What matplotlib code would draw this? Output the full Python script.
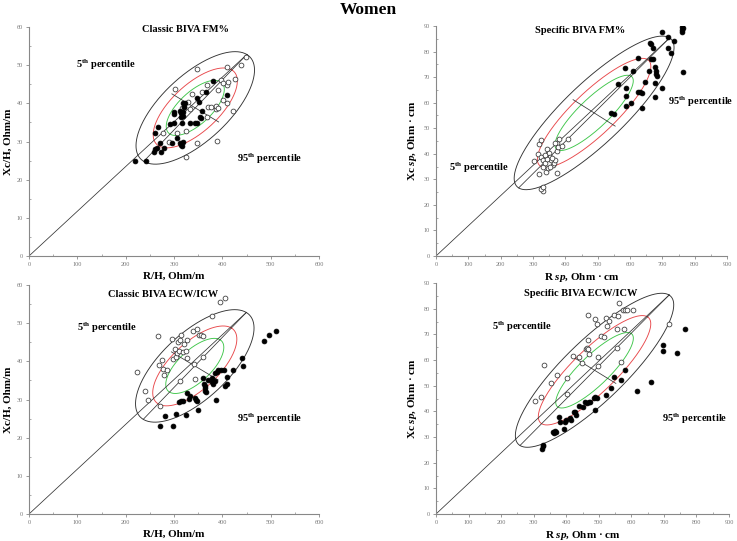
import numpy as np
import matplotlib
matplotlib.use("Agg")
import matplotlib.pyplot as plt
from matplotlib.ticker import MultipleLocator

plt.rcParams['font.family'] = ['Liberation Serif', 'DejaVu Serif']
plt.rcParams['mathtext.fontset'] = 'custom'
plt.rcParams['mathtext.rm'] = 'Liberation Serif:bold'
plt.rcParams['mathtext.bf'] = 'Liberation Serif:bold'
plt.rcParams['mathtext.it'] = 'Liberation Serif:italic:bold'

# ---------------- data ----------------
titles = ["Classic BIVA FM%", "Specific BIVA FM%", "Classic BIVA ECW/ICW", "Specific BIVA ECW/ICW"]
xlabels = ["R/H, Ohm/m", "R $\\mathit{sp}$, Ohm · cm", "R/H, Ohm/m", "R $\\mathit{sp}$, Ohm · cm"]
ylabels = ["Xc/H, Ohm/m", "Xc $\\mathit{sp}$, Ohm · cm", "Xc/H, Ohm/m", "Xc $\\mathit{sp}$, Ohm · cm"]
xmax = [600, 900, 600, 900]
ymax = [60, 90, 60, 90]

p1_fill_x = [219, 242, 260, 267, 259, 261, 264, 274, 272, 279, 292, 295, 300, 301, 301, 306, 312, 315, 317, 318,
             317, 312, 315, 318, 315, 319, 321, 323, 319, 334, 343, 348, 348, 352, 353, 356, 357, 367, 381, 410]
p1_fill_y = [25.0, 24.8, 32.3, 33.8, 27.3, 28.0, 28.2, 27.2, 29.7, 28.4, 34.6, 29.5, 34.9, 37.2, 37.8, 30.8, 29.5, 29.0, 28.9, 30.0,
             34.9, 38.0, 37.4, 36.7, 36.5, 37.8, 39.1, 40.2, 40.0, 34.9, 34.9, 34.8, 41.5, 40.4, 36.5, 36.2, 38.1, 43.1, 45.9, 42.2]
p1_open_x = [303, 347, 409, 439, 448, 426, 410, 412, 398, 401, 392, 369, 357, 337, 328, 333, 317, 321, 371, 377,
             387, 387, 390, 402, 409, 423, 369, 306, 325, 277, 290, 324, 347, 388]
p1_open_y = [43.7, 48.9, 49.6, 50.0, 52.1, 46.3, 44.8, 45.6, 46.1, 45.2, 43.5, 44.9, 43.1, 42.4, 40.3, 38.6, 38.7, 39.0, 39.1, 39.1,
             38.4, 39.3, 38.7, 40.9, 40.0, 38.0, 36.3, 32.1, 32.8, 32.3, 30.0, 26.0, 29.5, 30.1]

p2_fill_x = [698, 719, 760, 760, 762, 765, 736, 662, 665, 670, 719, 665, 670, 626, 726, 586, 610, 658, 677, 680,
             681, 682, 765, 564, 587, 588, 626, 632, 637, 647, 677, 699, 677, 588, 603, 638, 541, 551]
p2_fill_y = [87.8, 85.8, 89.6, 88.5, 87.5, 89.3, 84.0, 83.2, 82.8, 81.5, 81.5, 77.0, 77.0, 77.3, 79.3, 73.4, 72.4, 72.5, 74.1, 72.5,
             71.2, 70.4, 72.1, 67.2, 65.8, 62.6, 64.3, 64.0, 63.9, 68.1, 67.5, 65.6, 62.3, 58.7, 60.0, 58.0, 55.8, 55.6]
p2_open_x = [319, 325, 303, 315, 324, 332, 320, 331, 336, 339, 344, 349, 353, 356, 361, 365, 368, 373, 373, 368,
             381, 376, 373, 330, 326, 332, 408, 391, 344, 345, 360, 352, 337]
p2_open_y = [43.8, 45.4, 37.3, 39.9, 38.6, 37.6, 32.1, 35.0, 36.3, 33.0, 41.7, 40.2, 38.9, 37.6, 35.6, 36.5, 37.6, 41.2, 44.1, 44.3,
             45.6, 42.8, 32.3, 25.6, 26.2, 26.9, 45.8, 43.2, 37.8, 34.5, 38.3, 34.8, 39.5]

p3_fill_x = [271, 298, 282, 304, 324, 350, 326, 311, 315, 318, 332, 333, 344, 347, 345, 361, 364, 364, 365, 366,
             363, 370, 378, 379, 381, 384, 385, 388, 392, 397, 404, 409, 406, 409, 423, 387, 440, 442, 487, 497, 512]
p3_fill_y = [23.0, 23.1, 25.8, 26.3, 25.9, 27.3, 31.8, 29.3, 29.5, 29.7, 30.2, 30.8, 30.3, 29.5, 29.9, 35.6, 33.6, 32.9, 32.2, 31.9,
             34.1, 35.2, 35.6, 34.5, 34.1, 34.8, 36.9, 37.2, 37.6, 37.8, 37.6, 35.9, 33.6, 34.1, 37.8, 30.0, 41.0, 38.9, 45.3, 46.9, 48.0]
p3_open_x = [223, 241, 246, 267, 268, 275, 277, 280, 272, 286, 295, 297, 303, 304, 307, 309, 312, 311, 315, 318,
             321, 326, 324, 326, 312, 340, 347, 351, 355, 359, 359, 342, 344, 378, 395, 406]
p3_open_y = [37.1, 32.1, 30.0, 46.7, 39.1, 40.3, 38.1, 36.5, 28.2, 37.8, 45.9, 40.6, 43.3, 41.1, 42.2, 45.0, 45.5, 42.8, 46.9, 42.5,
             44.6, 45.5, 42.7, 41.0, 34.9, 47.9, 48.6, 46.9, 46.8, 46.7, 41.1, 39.2, 35.5, 52.0, 55.6, 56.7]

p4_fill_x = [329, 327, 330, 358, 365, 370, 362, 378, 382, 394, 397, 399, 411, 416, 423, 426, 431, 439, 453, 457,
             464, 470, 474, 485, 489, 496, 487, 522, 539, 547, 568, 582, 616, 659, 698, 698, 739, 766]
p4_fill_y = [26.3, 25.5, 26.9, 31.9, 32.4, 32.0, 31.6, 37.6, 36.0, 33.2, 36.0, 36.6, 37.3, 36.6, 39.6, 39.9, 38.6, 42.2, 41.6, 43.6,
             43.2, 43.6, 43.8, 45.2, 45.7, 45.1, 40.4, 46.2, 49.0, 53.2, 52.1, 56.2, 48.0, 51.5, 65.7, 63.6, 62.7, 72.1]
p4_open_x = [305, 323, 331, 354, 373, 401, 403, 422, 438, 447, 461, 465, 468, 466, 466, 469, 498, 488, 496, 506,
             517, 522, 531, 524, 548, 555, 558, 575, 582, 586, 561, 557, 569, 578, 604, 498, 717]
p4_open_y = [43.9, 45.5, 58.0, 50.9, 54.1, 52.8, 46.6, 61.5, 61.3, 58.9, 64.2, 64.8, 64.4, 67.7, 77.7, 62.5, 61.0, 75.8, 74.2, 69.3,
             68.8, 76.4, 75.2, 73.3, 77.4, 72.1, 77.3, 79.4, 79.6, 79.6, 82.2, 64.8, 59.2, 72.1, 79.4, 57.6, 73.9]

fill_x = [p1_fill_x, p2_fill_x, p3_fill_x, p4_fill_x]
fill_y = [p1_fill_y, p2_fill_y, p3_fill_y, p4_fill_y]
open_x = [p1_open_x, p2_open_x, p3_open_x, p4_open_x]
open_y = [p1_open_y, p2_open_y, p3_open_y, p4_open_y]

# tolerance ellipse (95%) params: centre x, centre y, semi-major, semi-minor, angle (deg) in x/10 space
ell_cx = [344, 489, 343, 487]
ell_cy = [38.8, 56.0, 38.8, 56.0]
ell_a = [17.6, 37.5, 17.6, 37.2]
ell_b = [7.6, 10.4, 7.6, 10.4]
ell_ang = [52.7, 51.5, 52.7, 52.0]
ell_levels = [1.0, 0.71, 0.49]          # 95%, 75%, 50%
ell_colors = ['#333333', '#e8474a', '#3fc64a']

# annotation positions (data coords)
lab5_xy = [(97, 50.0), (40, 34.4), (99, 48.8), (172, 73.0)]
lab95_xy = [(430, 25.4), (718, 60.2), (430, 25.0), (694, 37.0)]
title_xy = [(323, 59.3), (445, 88.3), (277, 57.6), (445, 85.8)]

# ---------------- figure ----------------
W, H = 737, 541
fig = plt.figure(figsize=(W / 100, H / 100), dpi=100)
axes_px = [(29, 27, 319, 256), (436, 26, 727, 256), (29, 285, 319, 514), (436, 283, 729, 514)]

fig.text(0.5, 1 - 10 / H, "Women", ha='center', va='center', fontsize=12.5, fontweight='bold')

for i in range(4):
    l, t, r, b = axes_px[i]
    ax = fig.add_axes([l / W, 1 - b / H, (r - l) / W, (b - t) / H])
    ax.set_xlim(0, xmax[i])
    ax.set_ylim(0, ymax[i])
    for s in ['top', 'right']:
        ax.spines[s].set_visible(False)
    for s in ['left', 'bottom']:
        ax.spines[s].set_color('#888888')
        ax.spines[s].set_linewidth(0.8)
    ax.xaxis.set_major_locator(MultipleLocator(100))
    ax.xaxis.set_minor_locator(MultipleLocator(50))
    ax.yaxis.set_major_locator(MultipleLocator(10))
    ax.yaxis.set_minor_locator(MultipleLocator(5))
    ax.tick_params(which='major', length=2.5, width=0.6, color='#888888', labelsize=4.5,
                   labelcolor='#777777', pad=2, direction='out')
    ax.tick_params(which='minor', length=1.5, width=0.5, color='#888888', direction='in')

    # ellipses
    th = np.radians(ell_ang[i])
    tt = np.linspace(0, 2 * np.pi, 400)
    cxs = ell_cx[i] / 10.0
    cy = ell_cy[i]
    for lev, col in zip(ell_levels, ell_colors):
        u = lev * ell_a[i] * np.cos(tt)
        v = lev * ell_b[i] * np.sin(tt)
        ex = (cxs + u * np.cos(th) - v * np.sin(th)) * 10
        ey = cy + u * np.sin(th) + v * np.cos(th)
        ax.plot(ex, ey, color=col, lw=0.65, zorder=2)
    # vertices
    vx1 = (cxs + ell_a[i] * np.cos(th)) * 10
    vy1 = cy + ell_a[i] * np.sin(th)
    vx0 = (cxs - ell_a[i] * np.cos(th)) * 10
    vy0 = cy - ell_a[i] * np.sin(th)
    ax.plot([0, vx1], [0, vy1], color='#333333', lw=0.55, zorder=2)
    ax.plot([vx0, vx1], [vy0, vy1], color='#333333', lw=0.55, zorder=2)
    cr = 0.8 * ell_b[i]
    mx0 = (cxs - cr * np.sin(th)) * 10
    my0 = cy + cr * np.cos(th)
    mx1 = (cxs + cr * np.sin(th)) * 10
    my1 = cy - cr * np.cos(th)
    ax.plot([mx0, mx1], [my0, my1], color='#333333', lw=0.55, zorder=2)

    ax.scatter(open_x[i], open_y[i], s=12, facecolor='white', edgecolor='#333333', linewidth=0.55, zorder=3)
    ax.scatter(fill_x[i], fill_y[i], s=12, facecolor='black', edgecolor='black', linewidth=0.55, zorder=4)

    ax.text(*title_xy[i], titles[i], ha='center', va='center', fontsize=7.5, fontweight='bold')
    ax.text(*lab5_xy[i], "5$^{\\mathbf{th}}$ percentile", ha='left', va='center', fontsize=7.5, fontweight='bold')
    ax.text(*lab95_xy[i], "95$^{\\mathbf{th}}$ percentile", ha='left', va='center', fontsize=7.5, fontweight='bold')

    ax.set_xlabel(xlabels[i], fontsize=8, fontweight='bold', labelpad=3)
    ax.set_ylabel(ylabels[i], fontsize=8, fontweight='bold', labelpad=3)

fig.savefig("out.png", dpi=100)
